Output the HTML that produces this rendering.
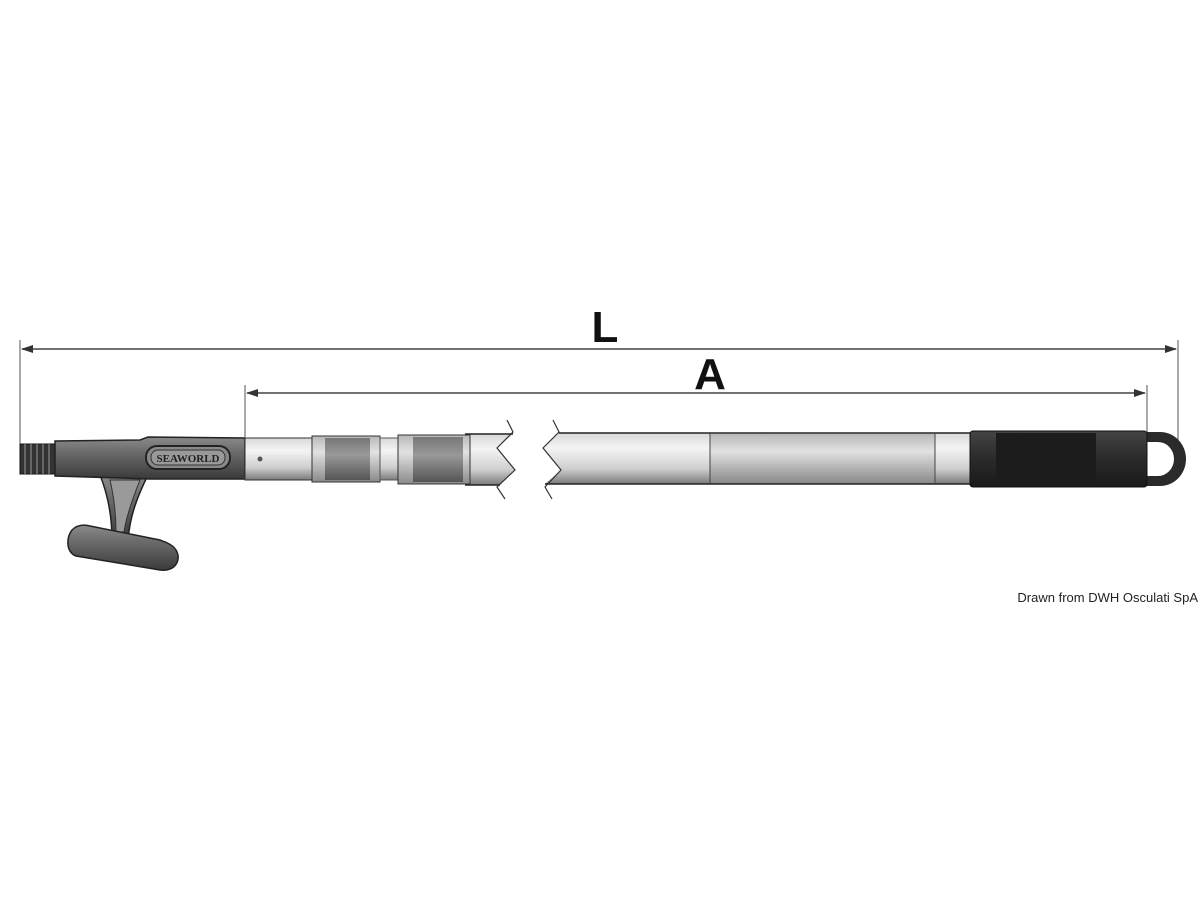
<!DOCTYPE html>
<html><head><meta charset="utf-8"><style>
html,body{margin:0;padding:0;background:#fff;}
svg{display:block;}
</style></head><body>
<svg width="1200" height="900" viewBox="0 0 1200 900" xmlns="http://www.w3.org/2000/svg">
<defs>
<linearGradient id="dark" x1="0" y1="0" x2="0" y2="1">
<stop offset="0" stop-color="#8a8a8a"/><stop offset="0.35" stop-color="#6c6c6c"/><stop offset="1" stop-color="#3a3a3a"/>
</linearGradient>
<linearGradient id="light" x1="0" y1="0" x2="0" y2="1">
<stop offset="0" stop-color="#d8d8d8"/><stop offset="0.3" stop-color="#f4f4f4"/><stop offset="0.7" stop-color="#cfcfcf"/><stop offset="1" stop-color="#7a7a7a"/>
</linearGradient>
<linearGradient id="mid" x1="0" y1="0" x2="0" y2="1">
<stop offset="0" stop-color="#b8b8b8"/><stop offset="0.35" stop-color="#e2e2e2"/><stop offset="1" stop-color="#8a8a8a"/>
</linearGradient>
<linearGradient id="grip" x1="0" y1="0" x2="0" y2="1">
<stop offset="0" stop-color="#777"/><stop offset="0.4" stop-color="#999"/><stop offset="1" stop-color="#555"/>
</linearGradient>
<linearGradient id="black" x1="0" y1="0" x2="0" y2="1">
<stop offset="0" stop-color="#444"/><stop offset="0.5" stop-color="#2a2a2a"/><stop offset="1" stop-color="#1a1a1a"/>
</linearGradient>
</defs>

<g stroke="#555" stroke-width="1">
<line x1="20" y1="340" x2="20" y2="445"/>
<line x1="1178" y1="340" x2="1178" y2="445"/>
<line x1="245" y1="385" x2="245" y2="437"/>
<line x1="1147" y1="385" x2="1147" y2="432"/>
</g>
<g stroke="#444" stroke-width="1.5">
<line x1="22" y1="349" x2="1176" y2="349"/>
<line x1="247" y1="393" x2="1145" y2="393"/>
</g>
<g fill="#333">
<polygon points="21,349 33,345 33,353"/>
<polygon points="1177,349 1165,345 1165,353"/>
<polygon points="246,393 258,389 258,397"/>
<polygon points="1146,393 1134,389 1134,397"/>
</g>
<text x="605" y="342" font-family="Liberation Sans, sans-serif" font-weight="bold" font-size="44" text-anchor="middle" fill="#111">L</text>
<text x="710" y="389" font-family="Liberation Sans, sans-serif" font-weight="bold" font-size="44" text-anchor="middle" fill="#111">A</text>

<!-- hook -->
<path d="M100,475 L148,475 C138,495 130,515 128,540 L112,540 C112,515 108,495 100,475 Z" fill="url(#dark)" stroke="#222" stroke-width="1.5"/>
<path d="M110,480 L140,480 C132,500 126,518 124,532 L116,532 C116,515 114,497 110,480 Z" fill="#9a9a9a" stroke="#333"/>
<path d="M72,530 C66,538 66,552 76,556 L160,570 C175,572 182,560 176,550 C172,544 165,542 160,540 L90,526 C82,524 76,526 72,530 Z" fill="url(#dark)" stroke="#222" stroke-width="1.5"/>

<rect x="20" y="444" width="36" height="30" fill="#333" stroke="#111"/>
<g stroke="#777" stroke-width="1.5">
<line x1="25" y1="444" x2="25" y2="474"/><line x1="31" y1="444" x2="31" y2="474"/>
<line x1="37" y1="444" x2="37" y2="474"/><line x1="43" y1="444" x2="43" y2="474"/>
<line x1="49" y1="444" x2="49" y2="474"/>
</g>
<path d="M55,441 L140,440 L148,437 L245,438 L245,479 L150,479 L55,476 Z" fill="url(#dark)" stroke="#222" stroke-width="1.5"/>
<rect x="146" y="446" width="84" height="23" rx="11" fill="#888" stroke="#222" stroke-width="2"/>
<rect x="151" y="450" width="74" height="15" rx="7" fill="#999" stroke="#333"/>
<text x="188" y="462" font-family="Liberation Serif, serif" font-weight="bold" font-size="11" text-anchor="middle" fill="#222">SEAWORLD</text>

<rect x="245" y="438" width="70" height="42" fill="url(#light)" stroke="#333"/>
<circle cx="260" cy="459" r="2.5" fill="#555"/>
<!-- end tube before break -->
<path d="M465,434 L513,434 L497,448 L515,470 L500,485 L465,485 Z" fill="url(#light)"/>
<line x1="465" y1="434" x2="513" y2="434" stroke="#222" stroke-width="1.5"/>
<line x1="465" y1="485" x2="500" y2="485" stroke="#222" stroke-width="1.5"/>
<polyline points="507,420 513,432 497,448 515,470 497,487 505,499" fill="none" stroke="#333" stroke-width="1.2"/>
<rect x="312" y="436" width="68" height="46" fill="url(#mid)" stroke="#333"/>
<rect x="325" y="438" width="45" height="42" fill="url(#grip)"/>
<rect x="380" y="438" width="18" height="42" fill="url(#light)" stroke="#555"/>
<rect x="398" y="435" width="72" height="49" fill="url(#mid)" stroke="#333"/>
<rect x="413" y="437" width="50" height="45" fill="url(#grip)"/>

<!-- right section -->
<path d="M559,433 L970,433 L970,484 L545,484 L561,470 L543,448 Z" fill="url(#light)"/>
<line x1="559" y1="433" x2="970" y2="433" stroke="#222" stroke-width="1.5"/>
<line x1="545" y1="484" x2="970" y2="484" stroke="#222" stroke-width="1.5"/>
<polyline points="553,420 559,432 543,448 561,470 545,487 552,499" fill="none" stroke="#333" stroke-width="1.2"/>
<rect x="710" y="434" width="225" height="49" fill="url(#mid)"/>
<line x1="710" y1="433" x2="710" y2="484" stroke="#444"/>
<line x1="935" y1="433" x2="935" y2="484" stroke="#444"/>
<path d="M1145,432 L1160,432 A26,27 0 0 1 1160,486 L1145,486 Z" fill="#2a2a2a"/>
<path d="M1147,442 L1158,442 A16,17 0 0 1 1158,476 L1147,476 Z" fill="#fff"/>
<rect x="970" y="431" width="177" height="56" rx="3" fill="url(#black)" stroke="#111"/>
<rect x="996" y="433" width="100" height="52" fill="#1c1c1c"/>

<text x="1198" y="602" font-family="Liberation Sans, sans-serif" font-size="13" text-anchor="end" fill="#222">Drawn from DWH Osculati SpA</text>
</svg>
</body></html>
